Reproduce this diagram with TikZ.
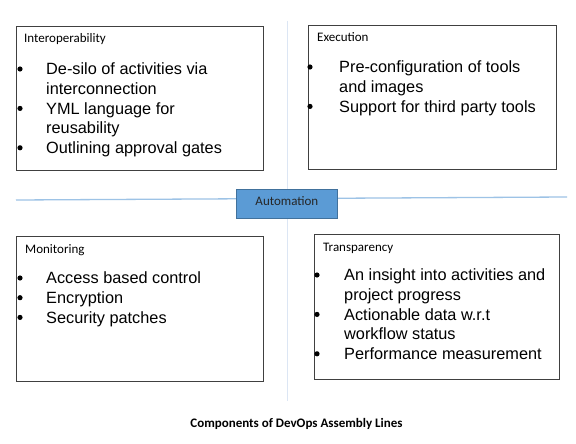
\documentclass[tikz,border=0pt]{standalone}
\usepackage{fontspec}
\setmainfont{Liberation Sans}
\newfontfamily\calib{Carlito}
\definecolor{boxline}{HTML}{404040}
\definecolor{hline}{HTML}{9DC3E6}
\definecolor{vline}{HTML}{DCE6F4}
\definecolor{autofill}{HTML}{5B9BD5}
\definecolor{autodraw}{HTML}{41719C}
\tikzset{
  panel/.style={draw=boxline, line width=0.8pt, fill=white},
  ptitle/.style={anchor=base west, inner sep=0pt, font=\calib\fontsize{13}{15}\selectfont},
  pline/.style={anchor=base west, inner sep=0pt, font=\fontsize{16.3}{19}\selectfont},
  dot/.style={fill=black, circle, inner sep=0pt, minimum size=5.2pt},
}
\begin{document}
\begin{tikzpicture}[x=1pt,y=-1pt]
\useasboundingbox (0,0) rectangle (576,444);
\fill[white] (0,0) rectangle (576,444);
% axes
\coordinate (vt) at (287,21);
\coordinate (vb) at (287,401);
\coordinate (hl) at (16,200);
\coordinate (hr) at (567,197);
\draw[vline, line width=1pt] (vt) -- (vb);
\draw[hline, line width=1.3pt] (hl) -- (hr);
% panels
\draw[panel] (16,26) rectangle (263,170);
\draw[panel] (308,25) rectangle (556,169);
\draw[panel] (16,236) rectangle (263,381);
\draw[panel] (314,234) rectangle (559,379);
% titles
\node[ptitle] (t1) at (24,43) {Interoperability};
\node[ptitle] (t2) at (317,42) {Execution};
\node[ptitle] (t3) at (25,253) {Monitoring};
\node[ptitle] (t4) at (323,251) {Transparency};
% panel 1
\node[pline] (a1) at (46,74.8) {De-silo of activities via};
\node[pline] (a2) at (46,94.5) {interconnection};
\node[pline] (a3) at (46,114.2) {YML language for};
\node[pline] (a4) at (46,133.9) {reusability};
\node[pline] (a5) at (46,153.6) {Outlining approval gates};
\node[dot] (d1) at (20,69) {};
\node[dot] (d2) at (20,108.4) {};
\node[dot] (d3) at (20,147.8) {};
% panel 2
\node[pline] (b1) at (339,72.8) {Pre-configuration of tools};
\node[pline] (b2) at (339,92.5) {and images};
\node[pline] (b3) at (339,112.2) {Support for third party tools};
\node[dot] (e1) at (310,67) {};
\node[dot] (e2) at (310,106.4) {};
% panel 3
\node[pline] (c1) at (46,283.8) {Access based control};
\node[pline] (c2) at (46,303.5) {Encryption};
\node[pline] (c3) at (46,323.2) {Security patches};
\node[dot] (f1) at (20,278) {};
\node[dot] (f2) at (20,297.7) {};
\node[dot] (f3) at (20,317.4) {};
% panel 4
\node[pline] (g1) at (344,280.8) {An insight into activities and};
\node[pline] (g2) at (344,300.5) {project progress};
\node[pline] (g3) at (344,320.2) {Actionable data w.r.t};
\node[pline] (g4) at (344,339.9) {workflow status};
\node[pline] (g5) at (344,359.6) {Performance measurement};
\node[dot] (h1) at (317,275) {};
\node[dot] (h2) at (317,314.4) {};
\node[dot] (h3) at (317,353.8) {};
% automation
\node[draw=autodraw, fill=autofill, line width=0.8pt, minimum width=101pt, minimum height=29pt, anchor=north west, inner sep=0pt, font=\calib\fontsize{13}{15}\selectfont, text=black!85] (auto) at (236,189) {\raisebox{6pt}{Automation}};
% caption
\node[font=\calib\bfseries\fontsize{13}{15}\selectfont, anchor=base] (cap) at (296.5,427) {Components of DevOps Assembly Lines};
\end{tikzpicture}
\end{document}
